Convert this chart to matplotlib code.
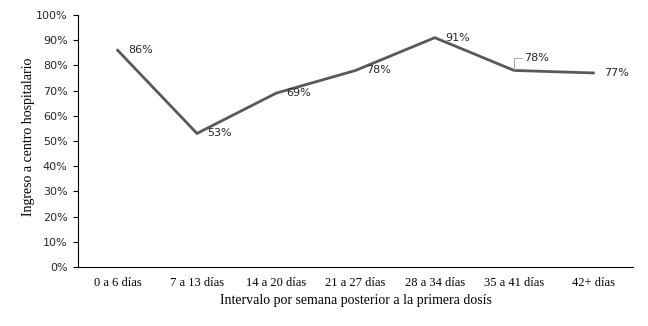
import numpy as np
import matplotlib.pyplot as plt
from matplotlib.ticker import PercentFormatter

categorias = ['0 a 6 días', '7 a 13 días', '14 a 20 días', '21 a 27 días',
              '28 a 34 días', '35 a 41 días', '42+ días']
ingreso = [86, 53, 69, 78, 91, 78, 77]

fig = plt.figure(figsize=(6.48, 3.26), dpi=100)
ax = fig.add_axes([0.1204, 0.181, 0.8565, 0.773])

x = np.arange(len(categorias))
ax.plot(x, ingreso, color='#595959', linewidth=2.0, solid_joinstyle='miter')

# etiquetas de datos a la derecha de cada punto
for i, v in enumerate(ingreso):
    if i == 5:
        # etiqueta desplazada con línea guía
        ax.annotate(f'{v}%', xy=(i, v), xytext=(7.5, 9), textcoords='offset points',
                    ha='left', va='center', fontsize=8, family='DejaVu Sans',
                    color='#262626',
                    arrowprops=dict(arrowstyle='-', color='#a6a6a6', lw=0.7,
                                    connectionstyle='angle,angleA=0,angleB=90,rad=0',
                                    shrinkA=0, shrinkB=0, relpos=(0, 0.5)))
    else:
        ax.annotate(f'{v}%', xy=(i, v), xytext=(7.5, 0), textcoords='offset points',
                    ha='left', va='center', fontsize=8, family='DejaVu Sans',
                    color='#262626')

ax.set_xlim(-0.5, len(categorias) - 0.5)
ax.set_ylim(0, 100)
ax.set_yticks(np.arange(0, 101, 10))
ax.yaxis.set_major_formatter(PercentFormatter(decimals=0))
ax.set_xticks(x)
ax.set_xticklabels(categorias)

for s in ['top', 'right']:
    ax.spines[s].set_visible(False)
for s in ['left', 'bottom']:
    ax.spines[s].set_linewidth(0.8)
    ax.spines[s].set_color('black')

ax.tick_params(axis='y', length=3.5, width=0.8, labelsize=8, pad=4)
ax.tick_params(axis='x', length=0, labelsize=9, pad=7)
for lbl in ax.get_yticklabels():
    lbl.set_family('DejaVu Sans')
    lbl.set_color('#262626')
for lbl in ax.get_xticklabels():
    lbl.set_family('Liberation Serif')

ax.set_xlabel('Intervalo por semana posterior a la primera dosís',
              family='Liberation Serif', fontsize=10, labelpad=4)
ax.set_ylabel('Ingreso a centro hospitalario',
              family='Liberation Serif', fontsize=10)
ax.yaxis.set_label_coords(-0.077, 0.516)

fig.savefig('out.png', dpi=100)
